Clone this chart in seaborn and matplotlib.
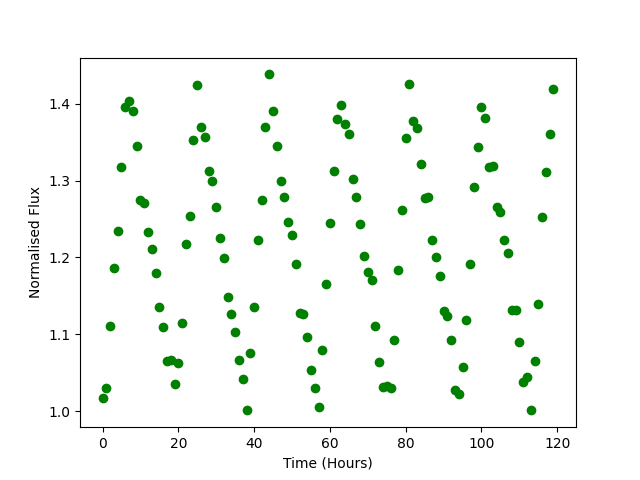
import matplotlib
matplotlib.use("Agg")
import matplotlib.pyplot as plt
import seaborn as sns
import pandas as pd

time_hours = list(range(120))
flux = [
    1.017, 1.030, 1.111, 1.186, 1.234, 1.317, 1.395, 1.403, 1.390, 1.345,
    1.274, 1.271, 1.233, 1.211, 1.180, 1.135, 1.109, 1.065, 1.067, 1.035,
    1.063, 1.115, 1.218, 1.254, 1.353, 1.424, 1.370, 1.356, 1.313, 1.299,
    1.266, 1.225, 1.199, 1.149, 1.126, 1.103, 1.067, 1.042, 1.002, 1.076,
    1.135, 1.223, 1.274, 1.370, 1.438, 1.391, 1.345, 1.300, 1.279, 1.246,
    1.229, 1.191, 1.128, 1.127, 1.096, 1.053, 1.030, 1.006, 1.080, 1.166,
    1.245, 1.312, 1.380, 1.398, 1.373, 1.360, 1.302, 1.278, 1.244, 1.202,
    1.181, 1.171, 1.111, 1.064, 1.032, 1.033, 1.030, 1.092, 1.183, 1.261,
    1.355, 1.425, 1.378, 1.368, 1.321, 1.277, 1.279, 1.223, 1.201, 1.176,
    1.130, 1.124, 1.093, 1.028, 1.022, 1.057, 1.119, 1.192, 1.292, 1.343,
    1.395, 1.381, 1.318, 1.319, 1.266, 1.259, 1.222, 1.206, 1.132, 1.131,
    1.090, 1.038, 1.045, 1.001, 1.065, 1.140, 1.253, 1.311, 1.360, 1.419,
]

df = pd.DataFrame({"time": time_hours, "flux": flux})

fig, ax = plt.subplots(figsize=(6.4, 4.8), dpi=100)
sns.scatterplot(data=df, x="time", y="flux", color="green", edgecolor="green",
                s=36, linewidth=1, ax=ax)
ax.set_xlabel("Time (Hours)")
ax.set_ylabel("Normalised Flux")

fig.savefig("out.png", dpi=100)
